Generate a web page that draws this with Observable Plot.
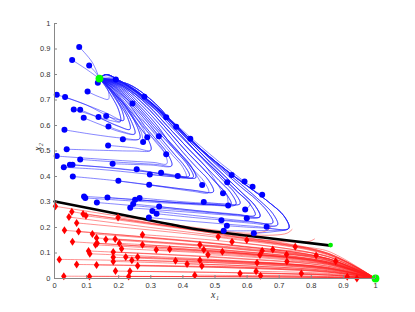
<!DOCTYPE html>
<html><head><meta charset="utf-8">
<script src="https://cdn.jsdelivr.net/npm/d3@7"></script>
<script src="https://cdn.jsdelivr.net/npm/@observablehq/plot@0.6"></script>
<style>body{margin:0;background:#fff}#chart{width:415px;height:312px}</style>
</head><body><div id="chart"></div>
<script>
const xTicks = [0,0.1,0.2,0.3,0.4,0.5,0.6,0.7,0.8,0.9,1];
const yTicks = [0,0.1,0.2,0.3,0.4,0.5,0.6,0.7,0.8,0.9,1];
const xLabel = "x₁";
const yLabel = "x₂";
const stablePoints = [[0.14,0.784],[1,0]];
const saddlePoint = [[0.86,0.131]];
const separatrixX = [0,0.25,0.455,0.663,0.86];
const separatrixY = [0.302,0.24,0.191,0.159,0.129];

// return legs of the blue trajectories (turn point -> upper attractor), inner to outer
const G = [0.14,0.784];
const L0 = [[0.205,0.615],[0.2,0.66],[0.18,0.71],[0.155,0.76],G];
const L1 = [[0.215,0.62],[0.21,0.66],[0.187,0.71],[0.16,0.76],G];
const L2 = [[0.235,0.585],[0.228,0.63],[0.2,0.69],[0.165,0.755],G];
const L3 = [[0.25,0.567],[0.24,0.615],[0.208,0.685],[0.17,0.752],G];
const L4 = [[0.265,0.548],[0.256,0.6],[0.217,0.68],[0.172,0.75],G];
const L5 = [[0.3,0.503],[0.29,0.55],[0.262,0.6],[0.226,0.67],[0.178,0.748],G];
const L6 = [[0.35,0.45],[0.34,0.5],[0.3,0.56],[0.272,0.6],[0.235,0.665],[0.182,0.746],G];
const L7 = [[0.365,0.442],[0.352,0.49],[0.31,0.555],[0.28,0.6],[0.24,0.67],[0.185,0.745],G];
const L8 = [[0.41,0.397],[0.398,0.44],[0.37,0.48],[0.33,0.54],[0.29,0.6],[0.248,0.665],[0.19,0.745],G];
const L9 = [[0.42,0.402],[0.406,0.44],[0.375,0.485],[0.338,0.54],[0.298,0.6],[0.252,0.667],[0.193,0.745],G];
const L10 = [[0.432,0.397],[0.418,0.44],[0.385,0.49],[0.345,0.545],[0.305,0.6],[0.258,0.668],[0.196,0.746],G];
const L11 = [[0.44,0.395],[0.426,0.44],[0.392,0.49],[0.352,0.545],[0.312,0.6],[0.263,0.67],[0.2,0.747],G];
const L12 = [[0.48,0.337],[0.466,0.38],[0.43,0.43],[0.39,0.49],[0.36,0.53],[0.32,0.6],[0.27,0.67],[0.205,0.748],G];
const L13 = [[0.495,0.34],[0.48,0.385],[0.443,0.435],[0.4,0.495],[0.33,0.6],[0.277,0.672],[0.208,0.75],G];
const L14 = [[0.55,0.29],[0.536,0.33],[0.5,0.38],[0.46,0.435],[0.41,0.5],[0.34,0.6],[0.285,0.675],[0.212,0.752],G];
const L15 = [[0.565,0.29],[0.55,0.335],[0.512,0.385],[0.47,0.44],[0.42,0.505],[0.35,0.6],[0.292,0.678],[0.215,0.755],G];
const L16 = [[0.578,0.293],[0.562,0.335],[0.525,0.385],[0.48,0.445],[0.43,0.51],[0.36,0.6],[0.3,0.68],[0.22,0.757],G];
const L17 = [[0.625,0.248],[0.61,0.29],[0.57,0.34],[0.525,0.395],[0.44,0.5],[0.37,0.595],[0.307,0.682],[0.225,0.76],G];
const L18 = [[0.64,0.242],[0.625,0.285],[0.585,0.335],[0.54,0.39],[0.45,0.5],[0.38,0.592],[0.315,0.685],[0.23,0.762],G];
const L19 = [[0.68,0.218],[0.665,0.26],[0.628,0.31],[0.58,0.36],[0.475,0.48],[0.4,0.575],[0.33,0.66],[0.25,0.74],[0.19,0.778],G];
const L20 = [[0.695,0.21],[0.68,0.255],[0.64,0.305],[0.59,0.36],[0.5,0.455],[0.42,0.545],[0.35,0.63],[0.27,0.715],[0.2,0.775],G];
const L21 = [[0.73,0.197],[0.715,0.245],[0.667,0.3],[0.62,0.345],[0.55,0.41],[0.463,0.5],[0.378,0.6],[0.29,0.7],[0.2,0.778],[0.16,0.8],G];

const blueTrajectories = [
 [[0.077,0.908],[0.117,0.849],G],
 [[0.055,0.857],[0.1,0.82],G],
 [[0.108,0.835],[0.128,0.808],G],
 [[0.135,0.768],G],
 [[0.191,0.78],[0.16,0.79],G],
 [[0.103,0.733],[0.14,0.712],[0.168,0.703],[0.165,0.745],G],
 [[0.007,0.721],[0.08,0.69],[0.16,0.65],...L1],
 [[0.033,0.712],[0.1,0.68],[0.165,0.638],...L0],
 [[0.06,0.663],[0.13,0.635],[0.195,0.6],...L2],
 [[0.08,0.662],[0.14,0.63],[0.2,0.596],...L2],
 [[0.091,0.63],[0.15,0.6],[0.205,0.575],...L3],
 [[0.137,0.633],[0.18,0.618],...L0],
 [[0.161,0.637],[0.19,0.626],...L1],
 [[0.168,0.596],[0.215,0.575],...L3],
 [[0.28,0.713],[0.2,0.775],[0.16,0.8],G],
 [[0.243,0.686],[0.19,0.74],G],
 [[0.348,0.632],[0.28,0.708],[0.2,0.772],[0.16,0.797],G],
 [[0.379,0.595],[0.3,0.68],[0.2,0.765],G],
 [[0.031,0.583],[0.12,0.565],[0.215,0.55],...L4],
 [[0.213,0.546],...L4],
 [[0.289,0.554],[0.27,0.6],[0.23,0.665],G],
 [[0.325,0.558],[0.265,0.63],[0.2,0.71],G],
 [[0.423,0.548],[0.35,0.625],[0.27,0.705],[0.19,0.77],G],
 [[0.276,0.535],[0.27,0.575],[0.235,0.645],G],
 [[0.167,0.522],[0.25,0.512],...L5],
 [[0.038,0.507],[0.14,0.503],[0.25,0.5],...L5],
 [[0.348,0.487],[0.312,0.54],[0.262,0.62],[0.2,0.705],G],
 [[0.007,0.48],[0.12,0.47],[0.24,0.46],[0.31,0.455],...L6],
 [[0.08,0.467],[0.2,0.456],[0.32,0.447],...L7],
 [[0.181,0.45],[0.3,0.445],...L7],
 [[0.029,0.436],[0.14,0.428],[0.27,0.412],[0.36,0.4],...L8],
 [[0.048,0.446],[0.16,0.436],[0.28,0.42],[0.37,0.405],...L9],
 [[0.056,0.446],[0.17,0.434],[0.3,0.416],...L9],
 [[0.256,0.428],[0.36,0.405],...L10],
 [[0.297,0.408],[0.37,0.4],...L10],
 [[0.332,0.415],[0.39,0.402],...L11],
 [[0.384,0.402],...L11],
 [[0.057,0.4],[0.18,0.385],[0.32,0.362],[0.43,0.342],...L12],
 [[0.199,0.383],[0.33,0.362],[0.44,0.345],...L13],
 [[0.295,0.368],[0.42,0.348],...L13],
 [[0.46,0.367],...L12.slice(2)],
 [[0.092,0.322],[0.22,0.312],[0.38,0.298],[0.49,0.29],...L14],
 [[0.096,0.316],[0.23,0.305],[0.39,0.293],[0.49,0.287],...L14],
 [[0.165,0.318],[0.32,0.303],[0.49,0.29],...L15],
 [[0.251,0.309],[0.4,0.296],[0.51,0.289],...L15],
 [[0.265,0.316],[0.41,0.3],[0.52,0.292],...L16],
 [[0.465,0.3],[0.53,0.292],...L16],
 [[0.525,0.334],...L15.slice(3)],
 [[0.541,0.286],...L14.slice(1)],
 [[0.132,0.298],[0.28,0.282],[0.45,0.262],[0.57,0.25],...L17],
 [[0.245,0.292],[0.4,0.272],[0.56,0.253],...L17],
 [[0.236,0.277],[0.4,0.262],[0.57,0.246],...L18],
 [[0.326,0.282],[0.47,0.262],[0.58,0.248],...L18],
 [[0.594,0.271],...L17.slice(1)],
 [[0.599,0.236],...L18],
 [[0.538,0.377],...L18.slice(4)],
 [[0.305,0.265],[0.45,0.245],[0.6,0.225],...L19],
 [[0.318,0.254],[0.46,0.236],[0.61,0.222],...L19],
 [[0.52,0.228],[0.62,0.216],...L20],
 [[0.661,0.203],...L20],
 [[0.294,0.239],[0.45,0.222],[0.62,0.205],...L21],
 [[0.537,0.207],[0.65,0.198],...L21],
 [[0.527,0.187],[0.64,0.188],...L21],
 [[0.621,0.177],[0.69,0.185],...L21],
 [[0.552,0.406],[0.45,0.51],[0.36,0.61],[0.28,0.7],[0.2,0.768],G],
 [[0.592,0.38],[0.52,0.45],[0.44,0.535],[0.36,0.625],[0.28,0.71],[0.2,0.776],G],
 [[0.617,0.36],...L21.slice(4)],
 [[0.647,0.328],...L21.slice(3)]
];

const redTrajectories = [
 [[0.003,0.283],[0.25,0.235],[0.5,0.19],[0.62,0.178],[0.665,0.19],[0.675,0.205]],
 [[0.054,0.262],[0.3,0.215],[0.55,0.177],[0.68,0.17],[0.725,0.178],[0.74,0.192]],
 [[0.045,0.241],[0.3,0.2],[0.55,0.163],[0.75,0.143],[0.795,0.146],[0.81,0.155]],
 [[0.089,0.253],[0.55,0.17],[0.85,0.1],[1,0]],
 [[0.098,0.246],[0.55,0.167],[0.85,0.098],[1,0]],
 [[0.198,0.239],[0.55,0.165],[0.85,0.096],[1,0]],
 [[0.069,0.218],[0.55,0.155],[0.85,0.093],[1,0]],
 [[0.031,0.189],[0.55,0.13],[0.85,0.078],[1,0]],
 [[0.075,0.184],[0.55,0.132],[0.85,0.079],[1,0]],
 [[0.118,0.175],[0.55,0.13],[0.85,0.078],[1,0]],
 [[0.131,0.159],[0.55,0.119],[0.85,0.071],[1,0]],
 [[0.16,0.153],[0.55,0.117],[0.85,0.07],[1,0]],
 [[0.189,0.155],[0.55,0.121],[0.85,0.073],[1,0]],
 [[0.274,0.172],[0.55,0.143],[0.85,0.086],[1,0]],
 [[0.056,0.144],[0.55,0.101],[0.85,0.061],[1,0]],
 [[0.202,0.138],[0.55,0.109],[0.85,0.065],[1,0]],
 [[0.128,0.132],[0.55,0.099],[0.85,0.059],[1,0]],
 [[0.133,0.138],[0.55,0.103],[0.85,0.062],[1,0]],
 [[0.209,0.117],[0.55,0.093],[0.85,0.056],[1,0]],
 [[0.274,0.132],[0.55,0.11],[0.85,0.066],[1,0]],
 [[0.317,0.113],[0.55,0.097],[0.85,0.058],[1,0]],
 [[0.359,0.115],[0.55,0.102],[0.85,0.061],[1,0]],
 [[0.106,0.108],[0.55,0.079],[0.85,0.048],[1,0]],
 [[0.11,0.097],[0.55,0.071],[0.85,0.043],[1,0]],
 [[0.183,0.104],[0.55,0.081],[0.85,0.049],[1,0]],
 [[0.222,0.084],[0.55,0.067],[0.85,0.04],[1,0]],
 [[0.241,0.072],[0.55,0.059],[0.85,0.035],[1,0]],
 [[0.259,0.084],[0.55,0.069],[0.85,0.042],[1,0]],
 [[0.183,0.083],[0.55,0.065],[0.85,0.039],[1,0]],
 [[0.183,0.067],[0.55,0.052],[0.85,0.031],[1,0]],
 [[0.015,0.075],[0.55,0.06],[0.85,0.036],[1,0]],
 [[0.069,0.055],[0.55,0.045],[0.85,0.027],[1,0]],
 [[0.131,0.053],[0.55,0.042],[0.85,0.025],[1,0]],
 [[0.259,0.05],[0.55,0.042],[0.85,0.025],[1,0]],
 [[0.377,0.07],[0.55,0.063],[0.85,0.038],[1,0]],
 [[0.413,0.057],[0.55,0.052],[0.85,0.031],[1,0]],
 [[0.19,0.029],[0.55,0.023],[0.85,0.014],[1,0]],
 [[0.235,0.028],[0.55,0.023],[0.85,0.014],[1,0]],
 [[0.231,0.008],[0.55,0.007],[0.85,0.004],[1,0]],
 [[0.029,0.009],[0.55,0.007],[0.85,0.004],[1,0]],
 [[0.109,0.008],[0.55,0.007],[0.85,0.004],[1,0]],
 [[0.437,0.013],[0.55,0.012],[0.85,0.007],[1,0]],
 [[0.453,0.132],[0.55,0.124],[0.85,0.075],[1,0]],
 [[0.465,0.113],[0.55,0.107],[0.85,0.064],[1,0]],
 [[0.453,0.072],[0.55,0.068],[0.85,0.041],[1,0]],
 [[0.459,0.049],[0.55,0.046],[0.85,0.028],[1,0]],
 [[0.478,0.093],[0.55,0.089],[0.85,0.053],[1,0]],
 [[0.51,0.164],[0.85,0.096],[1,0]],
 [[0.553,0.144],[0.85,0.086],[1,0]],
 [[0.599,0.151],[0.85,0.1],[1,0]],
 [[0.75,0.125],[0.85,0.108],[1,0]],
 [[0.523,0.105],[0.85,0.062],[1,0]],
 [[0.647,0.109],[0.85,0.079],[1,0]],
 [[0.68,0.114],[0.85,0.088],[1,0]],
 [[0.64,0.092],[0.85,0.066],[1,0]],
 [[0.723,0.094],[0.85,0.078],[1,0]],
 [[0.815,0.09],[1,0]],
 [[0.876,0.068],[1,0]],
 [[0.631,0.062],[0.85,0.044],[1,0]],
 [[0.724,0.067],[0.85,0.056],[1,0]],
 [[0.578,0.02],[0.85,0.013],[1,0]],
 [[0.628,0.028],[0.85,0.02],[1,0]],
 [[0.642,0.011],[0.85,0.008],[1,0]],
 [[0.769,0.02],[0.85,0.017],[1,0]],
 [[0.942,0.0],[1,0]],
 [[0.912,0.007],[1,0]]
];

const toRows = (trajs) => trajs.flatMap((t, i) => t.map(([x, y], k) => ({id: i, k, x, y})));
const blueRows = toRows(blueTrajectories);
const redRows = toRows(redTrajectories);
const blueStarts = blueTrajectories.map(t => ({x: t[0][0], y: t[0][1]}));
const redStarts = redTrajectories.map(t => ({x: t[0][0], y: t[0][1]}));
const separatrix = separatrixX.map((x, i) => ({x, y: separatrixY[i]}));
const stable = stablePoints.map(([x, y]) => ({x, y}));
const saddle = saddlePoint.map(([x, y]) => ({x, y}));

const tallDiamond = {
  draw(context, size) {
    const r = Math.sqrt(size / Math.PI);
    const w = r * 0.68;
    context.moveTo(0, -r);
    context.lineTo(w, 0);
    context.lineTo(0, r);
    context.lineTo(-w, 0);
    context.closePath();
  }
};

const W = 415, H = 312, mL = 54, mR = 40, mT = 23, mB = 34;
const fmt = d3.format("~g");

const chart = Plot.plot({
  width: W, height: H,
  marginLeft: mL, marginRight: mR, marginTop: mT, marginBottom: mB,
  style: {fontFamily: "'Liberation Sans', Arial, sans-serif", background: "#fff"},
  x: {domain: [0, 1]},
  y: {domain: [0, 1]},
  marks: [
    Plot.line(redRows, {x: "x", y: "y", z: "id", curve: "catmull-rom", stroke: "#ff1a1a", strokeWidth: 0.65, strokeOpacity: 0.75}),
    Plot.line(blueRows, {x: "x", y: "y", z: "id", curve: "catmull-rom", stroke: "#1a1aff", strokeWidth: 0.65, strokeOpacity: 0.8}),
    Plot.line(separatrix, {x: "x", y: "y", curve: "monotone-x", stroke: "#000", strokeWidth: 2.6}),
    Plot.dot(redStarts, {x: "x", y: "y", r: 4, symbol: tallDiamond, fill: "#ff0000", stroke: "none"}),
    Plot.dot(blueStarts, {x: "x", y: "y", r: 3, fill: "#0000ff", stroke: "none"}),
    Plot.dot(stable, {x: "x", y: "y", r: 3.9, fill: "#00ff00", stroke: "none"}),
    Plot.dot(saddle, {x: "x", y: "y", r: 2.4, fill: "#00ee00", stroke: "none"}),
    Plot.ruleX([0], {stroke: "#888", strokeWidth: 1}),
    Plot.ruleY([0], {stroke: "#888", strokeWidth: 1}),
    Plot.tickX(xTicks, {x: d => d, stroke: "#888", insetTop: H - mT - mB - 3}),
    Plot.tickY(yTicks, {y: d => d, stroke: "#888", insetRight: W - mL - mR - 3}),
    Plot.axisX(xTicks, {anchor: "bottom", tickSize: 0, tickPadding: 4, tickFormat: fmt, fontSize: 7.5, fill: "#333", label: null}),
    Plot.axisY(yTicks, {anchor: "left", tickSize: 0, tickPadding: 4, tickFormat: fmt, fontSize: 7.5, fill: "#333", label: null}),
    Plot.text([xLabel], {text: d => d, frameAnchor: "bottom", dy: 19, fontSize: 10, fontStyle: "italic", fontFamily: "'Liberation Serif', 'DejaVu Serif', serif", fill: "#333"}),
    Plot.text([yLabel], {text: d => d, frameAnchor: "left", dx: -17, rotate: -90, fontSize: 10, fontStyle: "italic", fontFamily: "'Liberation Serif', 'DejaVu Serif', serif", fill: "#333"})
  ]
});
document.getElementById("chart").appendChild(chart);
</script>
</body></html>
